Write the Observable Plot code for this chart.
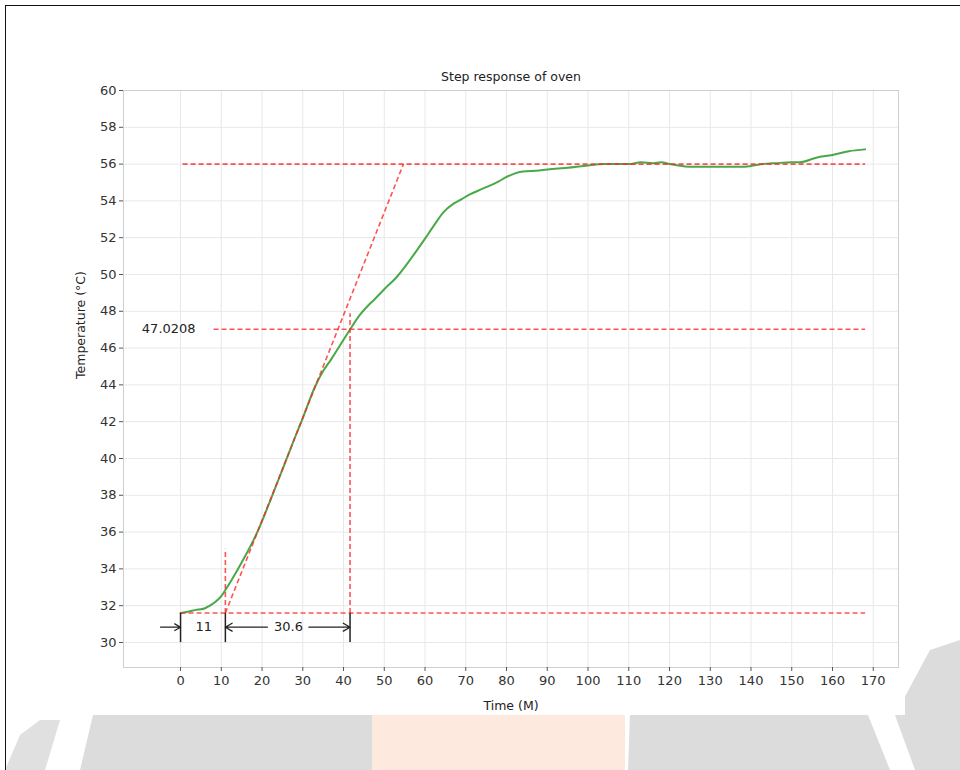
<!DOCTYPE html>
<html>
<head>
<meta charset="utf-8">
<script src="https://cdn.jsdelivr.net/npm/d3@7"></script>
<script src="https://cdn.jsdelivr.net/npm/@observablehq/plot@0.6"></script>
<style>
  html, body { margin: 0; padding: 0; background: #fff; }
  body { position: relative; width: 960px; height: 770px; overflow: hidden; font-family: "DejaVu Sans", sans-serif; }
  #bg { position: absolute; left: 0; top: 0; }
  #panel { position: absolute; left: 70px; top: 60px; width: 835px; height: 655px; background: #fff; }
  #border { position: absolute; left: 5px; top: 5px; width: 960px; height: 770px; border-top: 1.5px solid #111; border-left: 1.5px solid #111; }
  #chart { position: absolute; left: 0; top: 0; }
</style>
</head>
<body>
<svg id="bg" width="960" height="770">
  <polygon points="93,715 372,715 372,770 80,770" fill="#dcdcdc"/>
  <polygon points="372,715 625,715 625,770 372,770" fill="#fde9de"/>
  <polygon points="630,715 868,715 890,770 628,770" fill="#dcdcdc"/>
  <polygon points="895,715 930,650 960,640 960,770 915,770" fill="#dcdcdc"/>
  <polygon points="5,770 20,735 40,720 60,720 45,770" fill="#e0e0e0"/>
</svg>
<div id="panel"></div>
<div id="border"></div>
<div id="chart"></div>
<script>
// ---- data ----
const curveTime = [0, 2, 4, 5, 6, 7, 8, 9, 10, 11, 12, 14, 16, 18, 20, 22, 25, 28, 30, 33, 35, 37, 40, 42, 44, 46, 47.4, 50, 53, 56, 60, 62, 64.6, 67, 69, 71, 74, 78, 80, 84, 88, 92, 95, 99, 104, 110, 113, 116, 118, 120, 123, 126, 130, 135, 138, 140, 143, 146, 150, 152, 156, 160, 164, 168];
const curveTemp = [31.60, 31.68, 31.78, 31.80, 31.86, 31.98, 32.12, 32.3, 32.52, 32.85, 33.2, 33.95, 34.75, 35.6, 36.6, 37.7, 39.4, 41.1, 42.2, 43.9, 44.75, 45.4, 46.45, 47.15, 47.8, 48.3, 48.6, 49.2, 49.85, 50.7, 51.95, 52.6, 53.4, 53.85, 54.1, 54.35, 54.65, 55.05, 55.3, 55.6, 55.65, 55.75, 55.8, 55.9, 56.0, 56.0, 56.1, 56.05, 56.1, 56.0, 55.9, 55.85, 55.85, 55.85, 55.85, 55.9, 56.0, 56.05, 56.1, 56.1, 56.35, 56.5, 56.7, 56.8];

const deadTime = 11;          // L
const timeConstant = 30.6;    // T
const startTemp = 31.6;
const finalTemp = 56;
const level632 = 47.0208;
const tangentEnd = [54.7, 56];
const endTime = 168;

const xTicks = d3.range(0, 171, 10);
const yTicks = d3.range(30, 61, 2);

const titleText = "Step response of oven";
const xLabel = "Time (M)";
const yLabel = "Temperature (°C)";

// ---- derived tables ----
const curve = curveTime.map((t, i) => ({t, v: curveTemp[i]}));
const tEnd = deadTime + timeConstant;
const redSegments = [
  {x1: 0.5, y1: finalTemp, x2: endTime, y2: finalTemp},
  {x1: 8.1, y1: level632, x2: endTime, y2: level632},
  {x1: 0, y1: startTemp, x2: endTime, y2: startTemp},
  {x1: tEnd, y1: startTemp, x2: tEnd, y2: 47.9},
  {x1: deadTime, y1: startTemp, x2: deadTime, y2: 35.1},
  {x1: deadTime, y1: startTemp, x2: tangentEnd[0], y2: tangentEnd[1]}
];
const dimY = 30.83;
const dimTicks = [0, deadTime, tEnd].map(x => ({x1: x, y1: startTemp, x2: x, y2: 30.02}));
const arrows = [
  {x1: -4.9, y1: dimY, x2: 0, y2: dimY},
  {x1: 21.3, y1: dimY, x2: deadTime, y2: dimY},
  {x1: 31.5, y1: dimY, x2: tEnd, y2: dimY}
];
const dimLabels = [
  {x: deadTime / 2 + 0.2, y: dimY, text: String(deadTime)},
  {x: 26.5, y: dimY, text: String(timeConstant)},
  {x: -2.9, y: level632, text: String(level632)}
];

const red = "rgba(255,40,40,0.8)";
const chart = Plot.plot({
  width: 960,
  height: 770,
  marginLeft: 123,
  marginRight: 62,
  marginTop: 90,
  marginBottom: 103,
  style: {background: "transparent", fontFamily: "DejaVu Sans, sans-serif", fontSize: "13px", color: "#333"},
  x: {domain: [-14, 176.2]},
  y: {domain: [28.64, 60]},
  marks: [
    Plot.gridX(xTicks, {stroke: "#e8e8e8", strokeOpacity: 1}),
    Plot.gridY(yTicks, {stroke: "#e8e8e8", strokeOpacity: 1}),
    Plot.frame({stroke: "#cfcfcf"}),
    Plot.axisX(xTicks, {tickSize: 4, tickPadding: 4, label: null, tickFormat: d => d, fontSize: 13, stroke: "#555", fill: "#333"}),
    Plot.axisY(yTicks, {tickSize: 4, tickPadding: 3, label: null, tickFormat: d => d, fontSize: 13, stroke: "#555", fill: "#333"}),
    Plot.line(curve, {x: "t", y: "v", stroke: "#34a034", strokeWidth: 2, strokeOpacity: 0.9, curve: "monotone-x"}),
    Plot.link(redSegments, {x1: "x1", y1: "y1", x2: "x2", y2: "y2", stroke: red, strokeWidth: 1.6, strokeDasharray: "5,3"}),
    Plot.link(dimTicks, {x1: "x1", y1: "y1", x2: "x2", y2: "y2", stroke: "#222", strokeWidth: 1.5}),
    Plot.arrow(arrows, {x1: "x1", y1: "y1", x2: "x2", y2: "y2", stroke: "#222", strokeWidth: 1.3, headLength: 9, bend: 0}),
    Plot.text(dimLabels, {x: "x", y: "y", text: "text", fontSize: 13, fill: "#222"}),
    Plot.text([titleText], {frameAnchor: "top", dy: -18, fontSize: 12.5, fill: "#222"}),
    Plot.text([xLabel], {frameAnchor: "bottom", dy: 42, fontSize: 12.5, fill: "#222"}),
    Plot.text([yLabel], {frameAnchor: "left", dx: -43, rotate: -90, fontSize: 12.5, fill: "#222"})
  ]
});
document.getElementById("chart").appendChild(chart);
</script>
</body>
</html>
